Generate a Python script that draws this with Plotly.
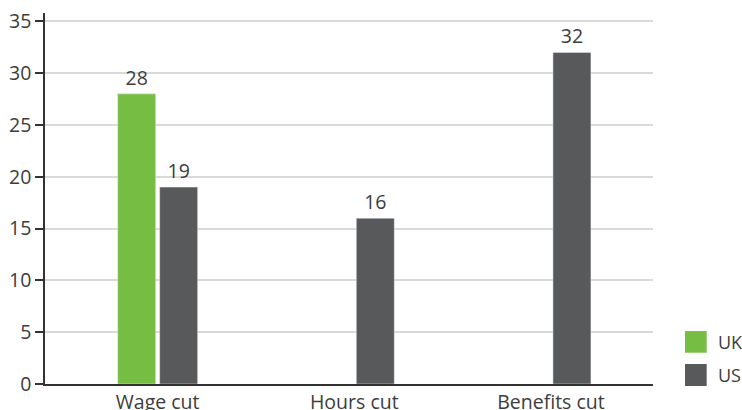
import plotly.graph_objects as go

# Share of respondents reporting each kind of cut (%)
categories = ["Wage cut", "Hours cut", "Benefits cut"]
uk_values = [28, None, None]
us_values = [19, 16, 32]
y_ticks = [0, 5, 10, 15, 20, 25, 30, 35]

GREEN = "#76BE43"
GREY = "#58595B"
TEXT = "#3d3d3d"
FONT = "Open Sans"
SIZE = 19.5

fig = go.Figure()
fig.add_trace(go.Bar(
    name="UK", x=categories, y=uk_values, marker_color=GREEN,
    text=[None if v is None else str(v) for v in uk_values],
    textposition="outside", cliponaxis=False,
    textfont=dict(size=SIZE, color=TEXT, family=FONT), showlegend=False,
))
fig.add_trace(go.Bar(
    name="US", x=categories, y=us_values, marker_color=GREY,
    text=[str(v) for v in us_values],
    textposition="outside", cliponaxis=False,
    textfont=dict(size=SIZE, color=TEXT, family=FONT), showlegend=False,
))

# Legend drawn as swatches + labels to the right of the plot
legend_items = [("UK", GREEN, 0.1427, 0.0843, 0.1131),
                ("US", GREY, 0.0539, -0.0054, 0.0242)]
for label, color, y1, y0, ytxt in legend_items:
    fig.add_shape(type="rect", xref="paper", yref="paper",
                  x0=1.0526, x1=1.0883, y0=y0, y1=y1,
                  fillcolor=color, line_width=0)
    fig.add_annotation(text=label, xref="paper", yref="paper",
                       x=1.1030, y=ytxt, xanchor="left", yanchor="middle",
                       showarrow=False,
                       font=dict(size=18, color=TEXT, family=FONT))

fig.update_layout(
    width=742, height=410,
    margin=dict(l=45, r=89, t=13, b=26, autoexpand=False),
    paper_bgcolor="white", plot_bgcolor="white",
    barmode="group", bargap=0.573, bargroupgap=0.095,
    font=dict(family=FONT, size=SIZE, color=TEXT),
    showlegend=False,
)
fig.update_xaxes(
    type="category", range=[-0.573, 2.519],
    showline=True, linecolor="#333333", linewidth=1.5,
    ticks="", showgrid=False, automargin=False,
    tickfont=dict(size=SIZE, color=TEXT, family=FONT),
)
fig.update_yaxes(
    range=[0, 35.8], tickvals=y_ticks,
    showline=True, linecolor="#333333", linewidth=1.5,
    ticks="outside", ticklen=8, tickwidth=1.5, tickcolor="#333333",
    showgrid=True, gridcolor="#d9d9d9", gridwidth=1.5,
    zeroline=False, automargin=False,
    tickfont=dict(size=SIZE, color=TEXT, family=FONT),
)

fig.write_html("out.html")
